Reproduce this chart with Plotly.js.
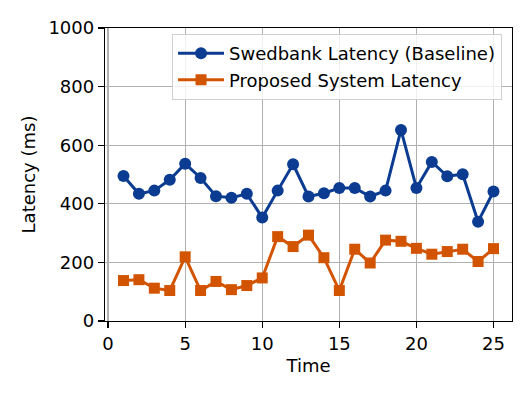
<!DOCTYPE html>
<html>
<head>
<meta charset="utf-8">
<script src="https://cdn.plot.ly/plotly-3.0.1.min.js"></script>
<style>
  html, body { margin: 0; padding: 0; background: #fff; }
  #chart { width: 532px; height: 399px; }
</style>
</head>
<body>
<div id="chart"></div>
<script>
// time steps
const time = [1,2,3,4,5,6,7,8,9,10,11,12,13,14,15,16,17,18,19,20,21,22,23,24,25];

// latency values (ms)
const swedbankLatency = [495,434,445,482,537,488,426,421,434,353,445,535,425,436,454,454,425,445,652,454,543,494,501,339,442];
const proposedLatency = [138,141,112,104,219,104,135,107,121,147,288,254,293,216,104,245,198,276,272,248,228,237,245,203,247];

const seriesNames = ['Swedbank Latency (Baseline)', 'Proposed System Latency'];

const baseline = {
    x: time,
    y: swedbankLatency,
    type: 'scatter',
    mode: 'lines+markers',
    name: seriesNames[0],
    line: {color: '#0b3c91', width: 3},
    marker: {symbol: 'circle', size: 12, color: '#0b3c91'},
};

const proposed = {
    x: time,
    y: proposedLatency,
    type: 'scatter',
    mode: 'lines+markers',
    name: seriesNames[1],
    line: {color: '#d35400', width: 3},
    marker: {symbol: 'square', size: 11, color: '#d35400'},
};

const axisStyle = {
    showline: true,
    linecolor: '#000',
    linewidth: 1.2,
    mirror: true,
    ticks: 'outside',
    ticklen: 6,
    tickwidth: 1.2,
    tickcolor: '#000',
    showgrid: true,
    gridcolor: '#b0b0b0',
    gridwidth: 1.2,
    zeroline: false,
    tickfont: {family: 'DejaVu Sans', size: 18, color: '#000'},
};

const layout = {
    width: 532,
    height: 399,
    margin: {l: 105, r: 20, t: 28, b: 78},
    paper_bgcolor: '#fff',
    plot_bgcolor: '#fff',
    font: {family: 'DejaVu Sans', color: '#000'},
    xaxis: Object.assign({}, axisStyle, {
        range: [-0.2, 26.2],
        tickvals: [0, 5, 10, 15, 20, 25],
        title: {text: 'Time', font: {family: 'DejaVu Sans', size: 18, color: '#000'}, standoff: 6},
    }),
    yaxis: Object.assign({}, axisStyle, {
        range: [0, 1000],
        tickvals: [0, 200, 400, 600, 800, 1000],
        title: {text: 'Latency (ms)', font: {family: 'DejaVu Sans', size: 18, color: '#000'}, standoff: 8},
    }),
    legend: {
        x: 0.975,
        y: 0.98,
        xanchor: 'right',
        yanchor: 'top',
        bgcolor: 'rgba(255,255,255,0.8)',
        bordercolor: '#d0d0d0',
        borderwidth: 1.2,
        font: {family: 'DejaVu Sans', size: 18, color: '#000'},
        itemwidth: 46,
        tracegroupgap: 0,
    },
    showlegend: true,
};

Plotly.newPlot('chart', [baseline, proposed], layout, {displayModeBar: false, staticPlot: true});
</script>
</body>
</html>
